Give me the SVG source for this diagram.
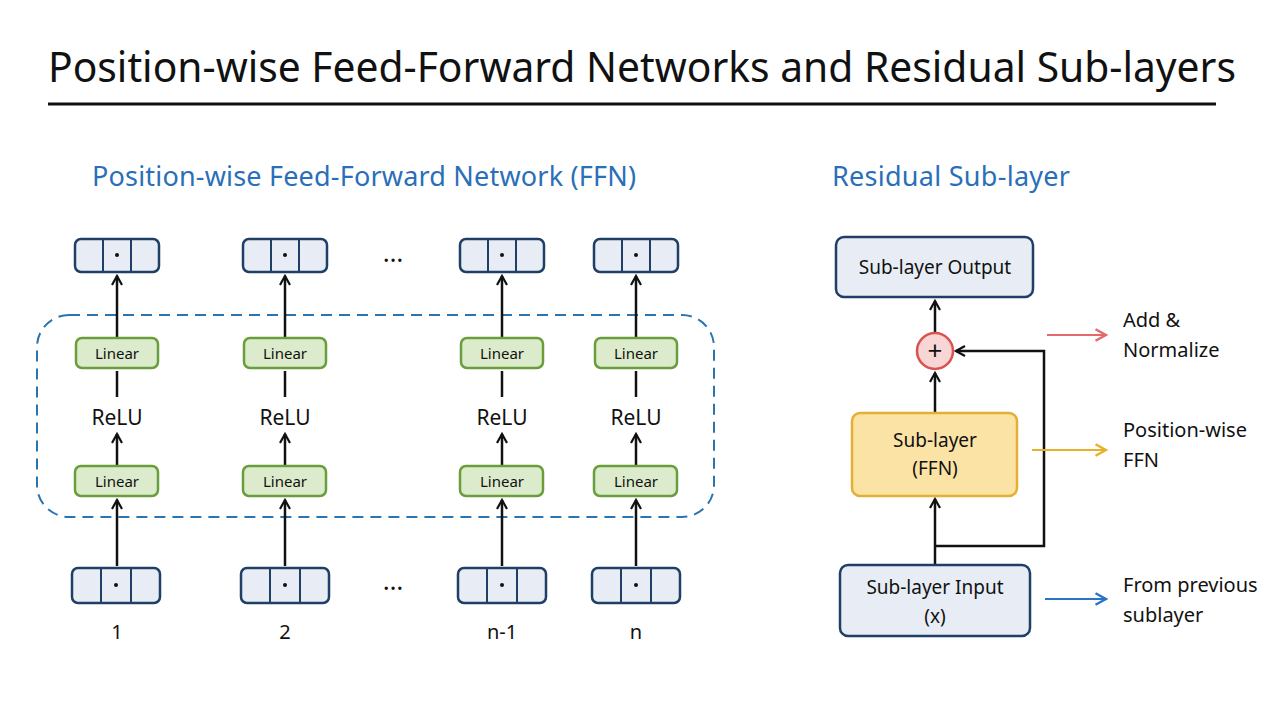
<svg xmlns="http://www.w3.org/2000/svg" width="1280" height="720" viewBox="0 0 1280 720">
<defs>
<style>
text{font-family:"Noto Sans","Liberation Sans",sans-serif;fill:#111}
.vec{fill:#e8edf5;stroke:#1f3f66;stroke-width:2.5}
.div{stroke:#1f3f66;stroke-width:2}
.lin{fill:#dcebcb;stroke:#6a9e3c;stroke-width:2.5}
.ln{stroke:#111;stroke-width:2.5;fill:none}
.lt{font-size:15px;text-anchor:middle}
.relu{font-size:21px;text-anchor:middle}
.h2{font-size:27px;fill:#2a6fb8}
.side{font-size:20px}
</style>
<marker id="ah" viewBox="0 0 12 12" refX="10" refY="6" markerWidth="12" markerHeight="12" markerUnits="userSpaceOnUse" orient="auto"><path d="M1,1 L10,6 L1,11" fill="none" stroke="#111" stroke-width="2.2"/></marker>
<marker id="ar" viewBox="0 0 12 12" refX="10" refY="6" markerWidth="14" markerHeight="14" markerUnits="userSpaceOnUse" orient="auto"><path d="M1,1 L10,6 L1,11" fill="none" stroke="#e36a6a" stroke-width="2"/></marker>
<marker id="ao" viewBox="0 0 12 12" refX="10" refY="6" markerWidth="14" markerHeight="14" markerUnits="userSpaceOnUse" orient="auto"><path d="M1,1 L10,6 L1,11" fill="none" stroke="#e9b02a" stroke-width="2"/></marker>
<marker id="ab" viewBox="0 0 12 12" refX="10" refY="6" markerWidth="14" markerHeight="14" markerUnits="userSpaceOnUse" orient="auto"><path d="M1,1 L10,6 L1,11" fill="none" stroke="#2a74c8" stroke-width="2"/></marker>
<g id="vecT"><rect x="-42" y="-16" width="84" height="33" rx="6" class="vec"/><line x1="-14" y1="-16" x2="-14" y2="17" class="div"/><line x1="14" y1="-16" x2="14" y2="17" class="div"/><circle cx="0" cy="0" r="2" fill="#111"/></g>
<g id="vecB"><rect x="-44" y="-17" width="88" height="35" rx="6" class="vec"/><line x1="-15" y1="-17" x2="-15" y2="18" class="div"/><line x1="15" y1="-17" x2="15" y2="18" class="div"/><circle cx="0" cy="0" r="2" fill="#111"/></g>
</defs>
<rect width="1280" height="720" fill="#fff"/>
<text x="48" y="82" font-size="42" textLength="1188" lengthAdjust="spacingAndGlyphs">Position-wise Feed-Forward Networks and Residual Sub-layers</text>
<line x1="48" y1="104" x2="1216" y2="104" stroke="#111" stroke-width="3"/>
<text x="92" y="186" class="h2" textLength="544">Position-wise Feed-Forward Network (FFN)</text>
<text x="832" y="186" class="h2" textLength="238">Residual Sub-layer</text>
<rect id="ffn-box" x="37" y="315" width="677" height="202" rx="32" fill="none" stroke="#2a74b0" stroke-width="2" stroke-dasharray="11 7"/>
<g id="connectors">
<g transform="translate(117,0)"><line x1="0" y1="338" x2="0" y2="276" class="ln" marker-end="url(#ah)"/><line x1="0" y1="371" x2="0" y2="397" class="ln"/><line x1="0" y1="465" x2="0" y2="434" class="ln" marker-end="url(#ah)"/><line x1="0" y1="566" x2="0" y2="500" class="ln" marker-end="url(#ah)"/></g>
<g transform="translate(285,0)"><line x1="0" y1="338" x2="0" y2="276" class="ln" marker-end="url(#ah)"/><line x1="0" y1="371" x2="0" y2="397" class="ln"/><line x1="0" y1="465" x2="0" y2="434" class="ln" marker-end="url(#ah)"/><line x1="0" y1="566" x2="0" y2="500" class="ln" marker-end="url(#ah)"/></g>
<g transform="translate(502,0)"><line x1="0" y1="338" x2="0" y2="276" class="ln" marker-end="url(#ah)"/><line x1="0" y1="371" x2="0" y2="397" class="ln"/><line x1="0" y1="465" x2="0" y2="434" class="ln" marker-end="url(#ah)"/><line x1="0" y1="566" x2="0" y2="500" class="ln" marker-end="url(#ah)"/></g>
<g transform="translate(636,0)"><line x1="0" y1="338" x2="0" y2="276" class="ln" marker-end="url(#ah)"/><line x1="0" y1="371" x2="0" y2="397" class="ln"/><line x1="0" y1="465" x2="0" y2="434" class="ln" marker-end="url(#ah)"/><line x1="0" y1="566" x2="0" y2="500" class="ln" marker-end="url(#ah)"/></g>
<line x1="935" y1="333" x2="935" y2="301" class="ln" marker-end="url(#ah)"/>
<line x1="935" y1="412" x2="935" y2="373" class="ln" marker-end="url(#ah)"/>
<line x1="935" y1="564" x2="935" y2="499" class="ln" marker-end="url(#ah)"/>
<path d="M935,546 H1044 V351 H956" class="ln" marker-end="url(#ah)"/>
<line x1="1047" y1="335" x2="1106" y2="335" stroke="#e36a6a" stroke-width="2" marker-end="url(#ar)"/>
<line x1="1032" y1="450" x2="1106" y2="450" stroke="#e9b02a" stroke-width="2" marker-end="url(#ao)"/>
<line x1="1045" y1="599" x2="1106" y2="599" stroke="#2a74c8" stroke-width="2" marker-end="url(#ab)"/>
</g>
<g id="col1"><use href="#vecT" x="117" y="255"/><rect x="76" y="338" width="82" height="30" rx="6" class="lin"/><text x="117" y="359" class="lt">Linear</text><text x="117" y="425" class="relu">ReLU</text><rect x="75" y="466" width="83" height="30" rx="6" class="lin"/><text x="117" y="487" class="lt">Linear</text><use href="#vecB" x="116" y="585"/><text x="117" y="639" font-size="20" text-anchor="middle">1</text></g>
<g id="col2"><use href="#vecT" x="285" y="255"/><rect x="244" y="338" width="82" height="30" rx="6" class="lin"/><text x="285" y="359" class="lt">Linear</text><text x="285" y="425" class="relu">ReLU</text><rect x="243" y="466" width="83" height="30" rx="6" class="lin"/><text x="285" y="487" class="lt">Linear</text><use href="#vecB" x="285" y="585"/><text x="285" y="639" font-size="20" text-anchor="middle">2</text></g>
<g id="col3"><use href="#vecT" x="502" y="255"/><rect x="461" y="338" width="82" height="30" rx="6" class="lin"/><text x="502" y="359" class="lt">Linear</text><text x="502" y="425" class="relu">ReLU</text><rect x="460" y="466" width="83" height="30" rx="6" class="lin"/><text x="502" y="487" class="lt">Linear</text><use href="#vecB" x="502" y="585"/><text x="502" y="639" font-size="20" text-anchor="middle">n-1</text></g>
<g id="col4"><use href="#vecT" x="636" y="255"/><rect x="595" y="338" width="82" height="30" rx="6" class="lin"/><text x="636" y="359" class="lt">Linear</text><text x="636" y="425" class="relu">ReLU</text><rect x="594" y="466" width="83" height="30" rx="6" class="lin"/><text x="636" y="487" class="lt">Linear</text><use href="#vecB" x="636" y="585"/><text x="636" y="639" font-size="20" text-anchor="middle">n</text></g>
<text x="393" y="262" font-size="26" text-anchor="middle">…</text>
<text x="393" y="590" font-size="26" text-anchor="middle">…</text>
<g id="out"><rect x="836" y="237" width="197" height="60" rx="8" class="vec"/><text x="935" y="274" font-size="19" text-anchor="middle">Sub-layer Output</text></g>
<g id="add"><circle cx="935" cy="351" r="18" fill="#f8d6d6" stroke="#d9534f" stroke-width="2.5"/><text x="935" y="360" font-size="26" text-anchor="middle">+</text></g>
<g id="sub"><rect x="852" y="413" width="165" height="83" rx="8" fill="#fbe3a6" stroke="#e2b033" stroke-width="2.5"/><text x="935" y="447" font-size="19" text-anchor="middle">Sub-layer</text><text x="935" y="475" font-size="19" text-anchor="middle">(FFN)</text></g>
<g id="in"><rect x="840" y="565" width="190" height="71" rx="8" class="vec"/><text x="935" y="594" font-size="19" text-anchor="middle">Sub-layer Input</text><text x="935" y="623" font-size="19" text-anchor="middle">(x)</text></g>
<g id="labels"><text x="1123" y="327" class="side">Add &amp;</text><text x="1123" y="357" class="side">Normalize</text><text x="1123" y="437" class="side">Position-wise</text><text x="1123" y="467" class="side">FFN</text><text x="1123" y="592" class="side">From previous</text><text x="1123" y="622" class="side">sublayer</text></g>
</svg>
